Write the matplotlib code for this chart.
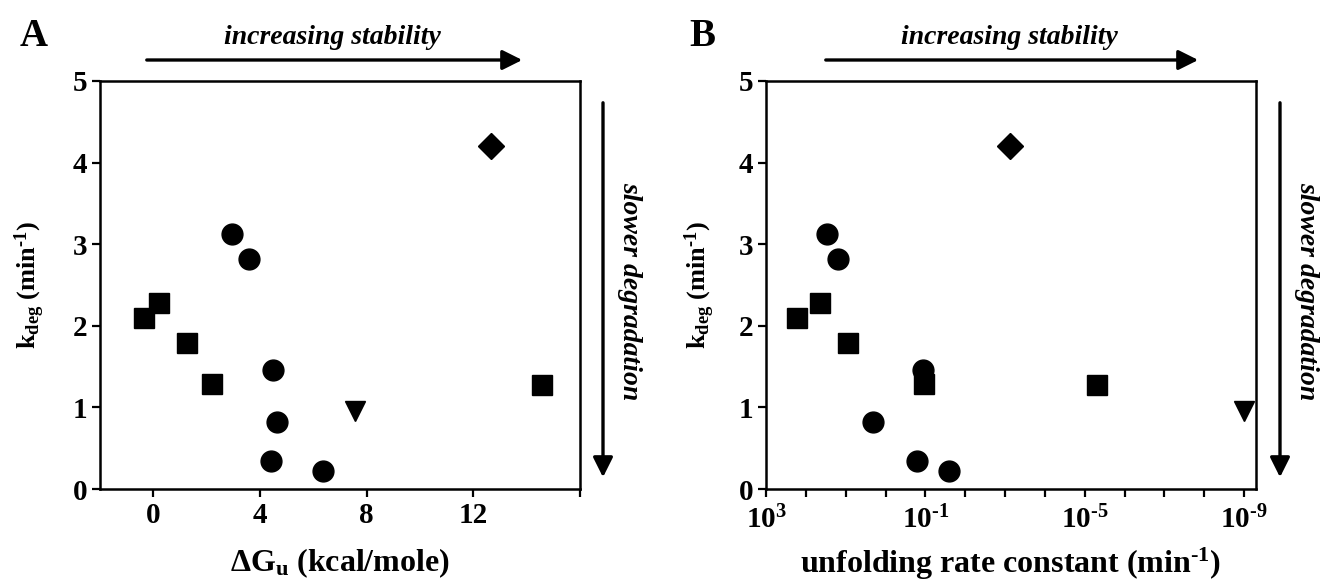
import matplotlib
matplotlib.use('Agg')
import matplotlib.pyplot as plt
from matplotlib.patches import FancyArrowPatch
from matplotlib.ticker import FixedLocator, NullFormatter

plt.rcParams['font.family'] = 'Liberation Serif'
plt.rcParams['font.weight'] = 'bold'
plt.rcParams['mathtext.fontset'] = 'custom'
plt.rcParams['mathtext.rm'] = 'Liberation Serif:bold'
plt.rcParams['mathtext.it'] = 'Liberation Serif:bold:italic'
plt.rcParams['mathtext.bf'] = 'Liberation Serif:bold'
plt.rcParams['mathtext.default'] = 'rm'

# kdeg values (min-1) per substrate group
kdeg_squares = [2.09, 2.28, 1.79, 1.29, 1.28]
kdeg_circles = [3.13, 2.82, 1.46, 0.82, 0.34, 0.22]
kdeg_diamond = [4.2]
kdeg_triangle = [0.95]

# panel A: unfolding free energy (kcal/mole)
dg_squares = [-0.35, 0.2, 1.28, 2.2, 14.56]
dg_circles = [2.94, 3.57, 4.47, 4.63, 4.4, 6.37]
dg_diamond = [12.65]
dg_triangle = [7.56]

# panel B: unfolding rate constant (min-1)
ku_squares = [1.7e2, 4.4e1, 8.5, 1.1e-1, 4.8e-6]
ku_circles = [3.0e1, 1.6e1, 1.15e-1, 2.1, 1.6e-1, 2.5e-2]
ku_diamond = [7.6e-4]
ku_triangle = [1.0e-9]

ku_major = [1e3, 1e-1, 1e-5, 1e-9]
ku_major_labels = ['10$^{3}$', r'10$^{\text{-1}}$', r'10$^{\text{-5}}$', r'10$^{\text{-9}}$']
ku_minor = [10.0 ** e for e in range(3, -10, -1)]

W, H = 1321, 581
fig = plt.figure(figsize=(W / 100, H / 100), dpi=100)

def fx(px):
    return px / W

def fy(py):
    return 1 - py / H

ax_a = fig.add_axes([fx(100), fy(489), fx(580) - fx(100), fy(81) - fy(489)])
ax_b = fig.add_axes([fx(766), fy(489), fx(1256) - fx(766), fy(81) - fy(489)])

def draw_points(ax, xs):
    ax.plot(xs[0], kdeg_squares, 's', color='black', markersize=14, linestyle='none')
    ax.plot(xs[1], kdeg_circles, 'o', color='black', markersize=15, linestyle='none')
    ax.plot(xs[2], kdeg_diamond, 'D', color='black', markersize=13, linestyle='none')
    ax.plot(xs[3], kdeg_triangle, 'v', color='black', markersize=15, linestyle='none')

def style_axes(ax):
    for s in ax.spines.values():
        s.set_linewidth(1.8)
    ax.set_ylim(0, 5)
    ax.set_yticks([0, 1, 2, 3, 4, 5])
    ax.tick_params(axis='both', which='both', direction='out', length=6, width=1.6,
                   labelsize=21, top=False, right=False)
    ax.tick_params(axis='y', pad=3)
    ax.set_ylabel(r'k$_{\mathrm{deg}}$ (min$^{\text{-1}}$)', fontsize=19, fontweight='bold')

draw_points(ax_a, [dg_squares, dg_circles, dg_diamond, dg_triangle])
style_axes(ax_a)
ax_a.set_xlim(-2, 16)
ax_a.set_xticks([0, 4, 8, 12, 16])
ax_a.set_xticklabels(['0', '4', '8', '12', ''])
ax_a.set_xlabel(r'$\Delta$G$_{\mathrm{u}}$ (kcal/mole)', fontsize=23, fontweight='bold')
ax_a.xaxis.set_label_coords(0.5, -0.14)
ax_a.yaxis.set_label_coords(-0.11, 0.5)

draw_points(ax_b, [ku_squares, ku_circles, ku_diamond, ku_triangle])
style_axes(ax_b)
ax_b.set_xscale('log')
ax_b.set_xlim(1e3, 10 ** -9.3)
ax_b.xaxis.set_major_locator(FixedLocator(ku_major))
ax_b.set_xticklabels(ku_major_labels)
ax_b.xaxis.set_minor_locator(FixedLocator(ku_minor))
ax_b.xaxis.set_minor_formatter(NullFormatter())
ax_b.tick_params(axis='x', pad=6)
ax_b.set_xlabel(r'unfolding rate constant (min$^{\text{-1}}$)', fontsize=23, fontweight='bold')
ax_b.xaxis.set_label_coords(0.5, -0.14)
ax_b.yaxis.set_label_coords(-0.1, 0.5)

# panel letters
fig.text(fx(34), fy(36), 'A', fontsize=28, fontweight='bold', ha='center', va='center')
fig.text(fx(702), fy(36), 'B', fontsize=28, fontweight='bold', ha='center', va='center')

# direction arrows and captions
arrow_kw = dict(arrowstyle='-|>', lw=2.4, color='black', mutation_scale=30)
for x0, x1, xc in [(144, 525, 332), (823, 1201, 1009)]:
    fig.text(fx(xc), fy(38), 'increasing stability', fontsize=20, fontweight='bold',
             style='italic', ha='center', va='center')
    fig.add_artist(FancyArrowPatch((fx(x0), fy(60)), (fx(x1), fy(60)),
                                   transform=fig.transFigure, **arrow_kw))

for xa, xt in [(603, 630), (1280, 1307)]:
    fig.add_artist(FancyArrowPatch((fx(xa), fy(100)), (fx(xa), fy(480)),
                                   transform=fig.transFigure, **arrow_kw))
    fig.text(fx(xt), fy(291), 'slower degradation', fontsize=20, fontweight='bold',
             style='italic', rotation=-90, ha='center', va='center')

fig.savefig('out.png', dpi=100)
